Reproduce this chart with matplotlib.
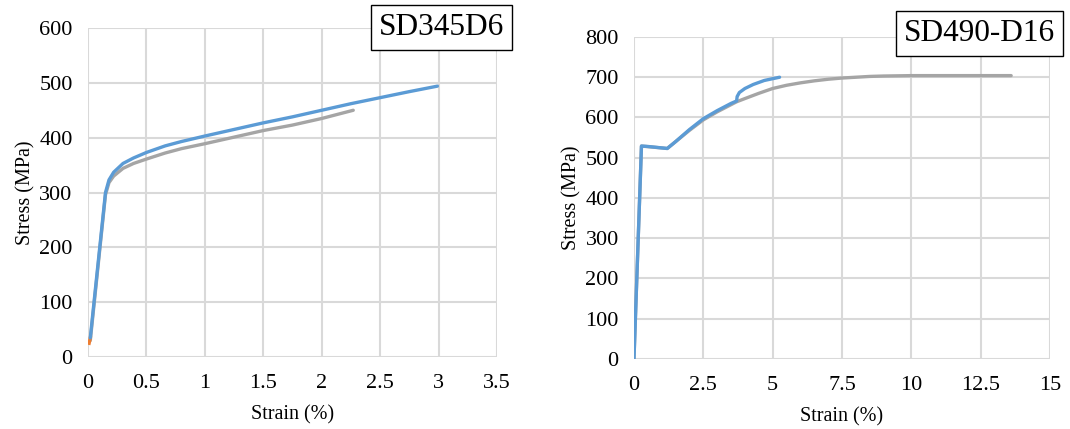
import matplotlib.pyplot as plt
from matplotlib.ticker import FuncFormatter

plt.rcParams['font.family'] = 'Liberation Serif'

COLORS = {'blue': '#5B9BD5', 'gray': '#A5A5A5', 'orange': '#ED7D31', 'grid': '#D9D9D9'}

# SD345D6 (left panel)
sd345_blue_x = [0.02, 0.15, 0.18, 0.22, 0.30, 0.39, 0.50, 0.66, 0.80, 1.00, 1.25, 1.50, 1.75, 2.00, 2.25, 2.50, 2.75, 2.99]
sd345_blue_y = [35, 300, 323, 337, 353, 363, 373, 385, 393, 403, 415, 427, 438, 450, 462, 473, 484, 494]
sd345_gray_x = [0.02, 0.15, 0.18, 0.22, 0.30, 0.39, 0.50, 0.66, 0.80, 1.00, 1.25, 1.50, 1.75, 2.00, 2.27]
sd345_gray_y = [30, 296, 318, 330, 344, 353, 361, 372, 380, 389, 401, 413, 423, 435, 450]
sd345_orange_x = [0.01, 0.02]
sd345_orange_y = [25, 35]

# SD490-D16 (right panel)
sd490_blue_x = [0.0, 0.27, 0.5, 1.2, 1.5, 2.0, 2.5, 3.0, 3.5, 3.7, 3.72, 3.8, 4.0, 4.3, 4.7, 5.25]
sd490_blue_y = [0, 529, 528, 523, 540, 570, 597, 617, 635, 641, 652, 662, 672, 682, 692, 700]
sd490_gray_x = [0.0, 0.27, 1.2, 2.0, 2.5, 3.0, 3.7, 4.0, 4.5, 5.0, 5.5, 6.0, 6.5, 7.0, 7.5, 8.0, 8.5, 9.0, 10.0, 12.0, 13.6]
sd490_gray_y = [0, 529, 523, 568, 594, 614, 639, 647, 660, 672, 680, 686, 691, 695, 698, 700, 702, 703, 704, 704, 704]

fig = plt.figure(figsize=(10.7, 4.29), dpi=100)
ax1 = fig.add_axes([0.0822, 0.1678, 0.3823, 0.7669])
ax2 = fig.add_axes([0.5925, 0.1632, 0.3888, 0.7506])


def style(ax, xmax, xstep, ymax, ystep):
    ax.set_xlim(0, xmax)
    ax.set_ylim(0, ymax)
    ax.set_xticks([i * xstep for i in range(int(round(xmax / xstep)) + 1)])
    ax.set_yticks(range(0, ymax + 1, ystep))
    ax.xaxis.set_major_formatter(FuncFormatter(lambda v, p: f'{v:g}'))
    ax.grid(True, color=COLORS['grid'], linewidth=1.5)
    ax.set_axisbelow(True)
    for s in ax.spines.values():
        s.set_visible(False)
    ax.tick_params(length=0, labelsize=16)
    ax.tick_params(axis='x', pad=12)
    ax.tick_params(axis='y', pad=11)
    ax.set_xlabel('Strain (%)', fontsize=14.5, labelpad=9)
    ax.set_ylabel('Stress (MPa)', fontsize=14.5, labelpad=3)


ax1.plot(sd345_gray_x, sd345_gray_y, color=COLORS['gray'], lw=2.4, solid_capstyle='round')
ax1.plot(sd345_orange_x, sd345_orange_y, color=COLORS['orange'], lw=2.4)
ax1.plot(sd345_blue_x, sd345_blue_y, color=COLORS['blue'], lw=2.4, solid_capstyle='round')
style(ax1, 3.5, 0.5, 600, 100)
ax1.text(1.018, 1.045, 'SD345D6', transform=ax1.transAxes, ha='right', va='top',
         fontsize=22.5, bbox=dict(boxstyle='square,pad=0.25', facecolor='white', edgecolor='black', linewidth=1))

ax2.plot(sd490_gray_x, sd490_gray_y, color=COLORS['gray'], lw=2.4, solid_capstyle='round')
ax2.plot(sd490_blue_x, sd490_blue_y, color=COLORS['blue'], lw=2.4, solid_capstyle='round')
style(ax2, 15, 2.5, 800, 100)
ax2.text(1.013, 1.055, 'SD490-D16', transform=ax2.transAxes, ha='right', va='top',
         fontsize=22.5, bbox=dict(boxstyle='square,pad=0.25', facecolor='white', edgecolor='black', linewidth=1))

plt.savefig('out.png', dpi=100, facecolor='white')
plt.close()
